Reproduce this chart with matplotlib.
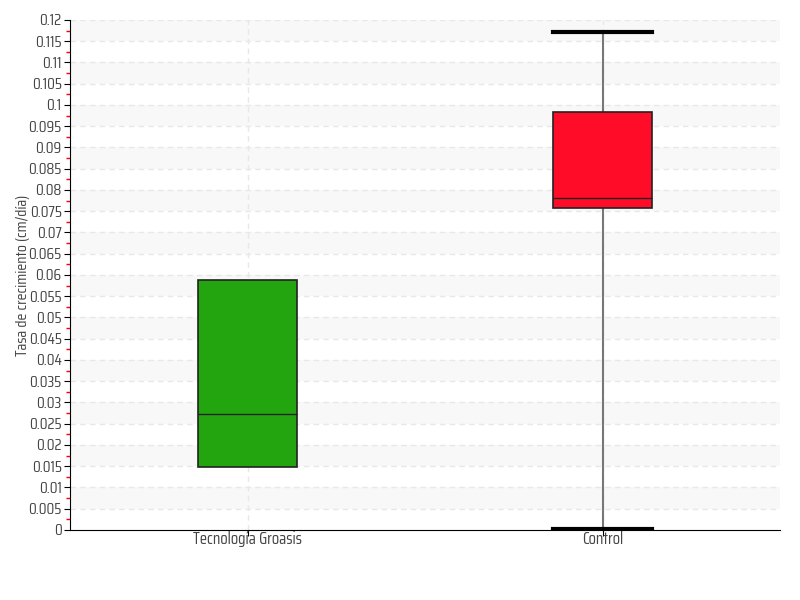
import matplotlib
matplotlib.use('Agg')
import matplotlib.pyplot as plt
import numpy as np

plt.rcParams['font.family'] = ['Saira Condensed', 'DejaVu Sans']

# datos
grupos = ['Tecnología Groasis', 'Control']
q1 = [0.0148, 0.0758]
mediana = [0.0273, 0.0781]
q3 = [0.0588, 0.0984]
bigote_inf = [0.0148, 0.0002]
bigote_sup = [0.0588, 0.1172]
colores = ['#22a50f', '#ff0c28']

fig = plt.figure(figsize=(8, 6), dpi=100)
ax = fig.add_axes([0.0875, 0.1167, 0.8875, 0.85])

# bandas alternas de fondo
paso = 0.005
for k in range(1, 24, 2):
    ax.axhspan(k * paso, (k + 1) * paso, color='#f8f8f8', zorder=0, lw=0)
for k in range(1, 25):
    ax.axhline(k * paso, color='#e8e8e8', ls=(0, (4, 3)), lw=1, zorder=0.5)

stats = []
for i in range(len(grupos)):
    stats.append({'label': grupos[i], 'q1': q1[i], 'med': mediana[i], 'q3': q3[i],
                  'whislo': bigote_inf[i], 'whishi': bigote_sup[i], 'fliers': []})

bp = ax.bxp(stats, positions=[1, 2], widths=0.28, patch_artist=True,
            showfliers=False,
            boxprops=dict(edgecolor='#222222', linewidth=1.2),
            medianprops=dict(color='#222222', linewidth=1),
            whiskerprops=dict(color='#777777', linewidth=1.5),
            capprops=dict(color='black', linewidth=3),
            capwidths=0.28)
for caja, c in zip(bp['boxes'], colores):
    caja.set_facecolor(c)
    caja.set_zorder(3)
for m in bp['medians']:
    m.set_zorder(4)
for w in bp['whiskers']:
    w.set_zorder(2)
for cap in bp['caps']:
    cap.set_zorder(5)
bp['caps'][0].set_visible(False)
bp['caps'][1].set_visible(False)

for x in [1, 2]:
    ax.axvline(x, color='#e8e8e8', ls=(0, (4, 3)), lw=1, zorder=0.6)

ax.set_xlim(0.5, 2.5)
ax.set_ylim(0, 0.12)
yt = np.arange(0, 0.1201, 0.005)
ax.set_yticks(yt)
ax.set_yticklabels(['0' if v < 1e-9 else ('%.3f' % v).rstrip('0') for v in yt])
ax.set_yticks(np.arange(0.0025, 0.12, 0.005), minor=True)
ax.tick_params(axis='y', which='minor', color='red', length=3, width=1)
ax.tick_params(axis='y', which='major', color='black', length=4, labelsize=11.5,
               labelcolor='#444444', pad=2)
ax.tick_params(axis='x', length=4, labelsize=12, labelcolor='#444444', pad=-3)
ax.set_xticks([1, 2])
ax.set_xticklabels(grupos)

for lado in ['top', 'right']:
    ax.spines[lado].set_visible(False)
ax.spines['left'].set_color('black')
ax.spines['bottom'].set_color('black')

ax.set_ylabel('Tasa de crecimiento (cm/día)', fontsize=11.5, color='#444444')
ax.yaxis.set_label_coords(-0.057, 0.5)

fig.savefig('out.png', dpi=100)
